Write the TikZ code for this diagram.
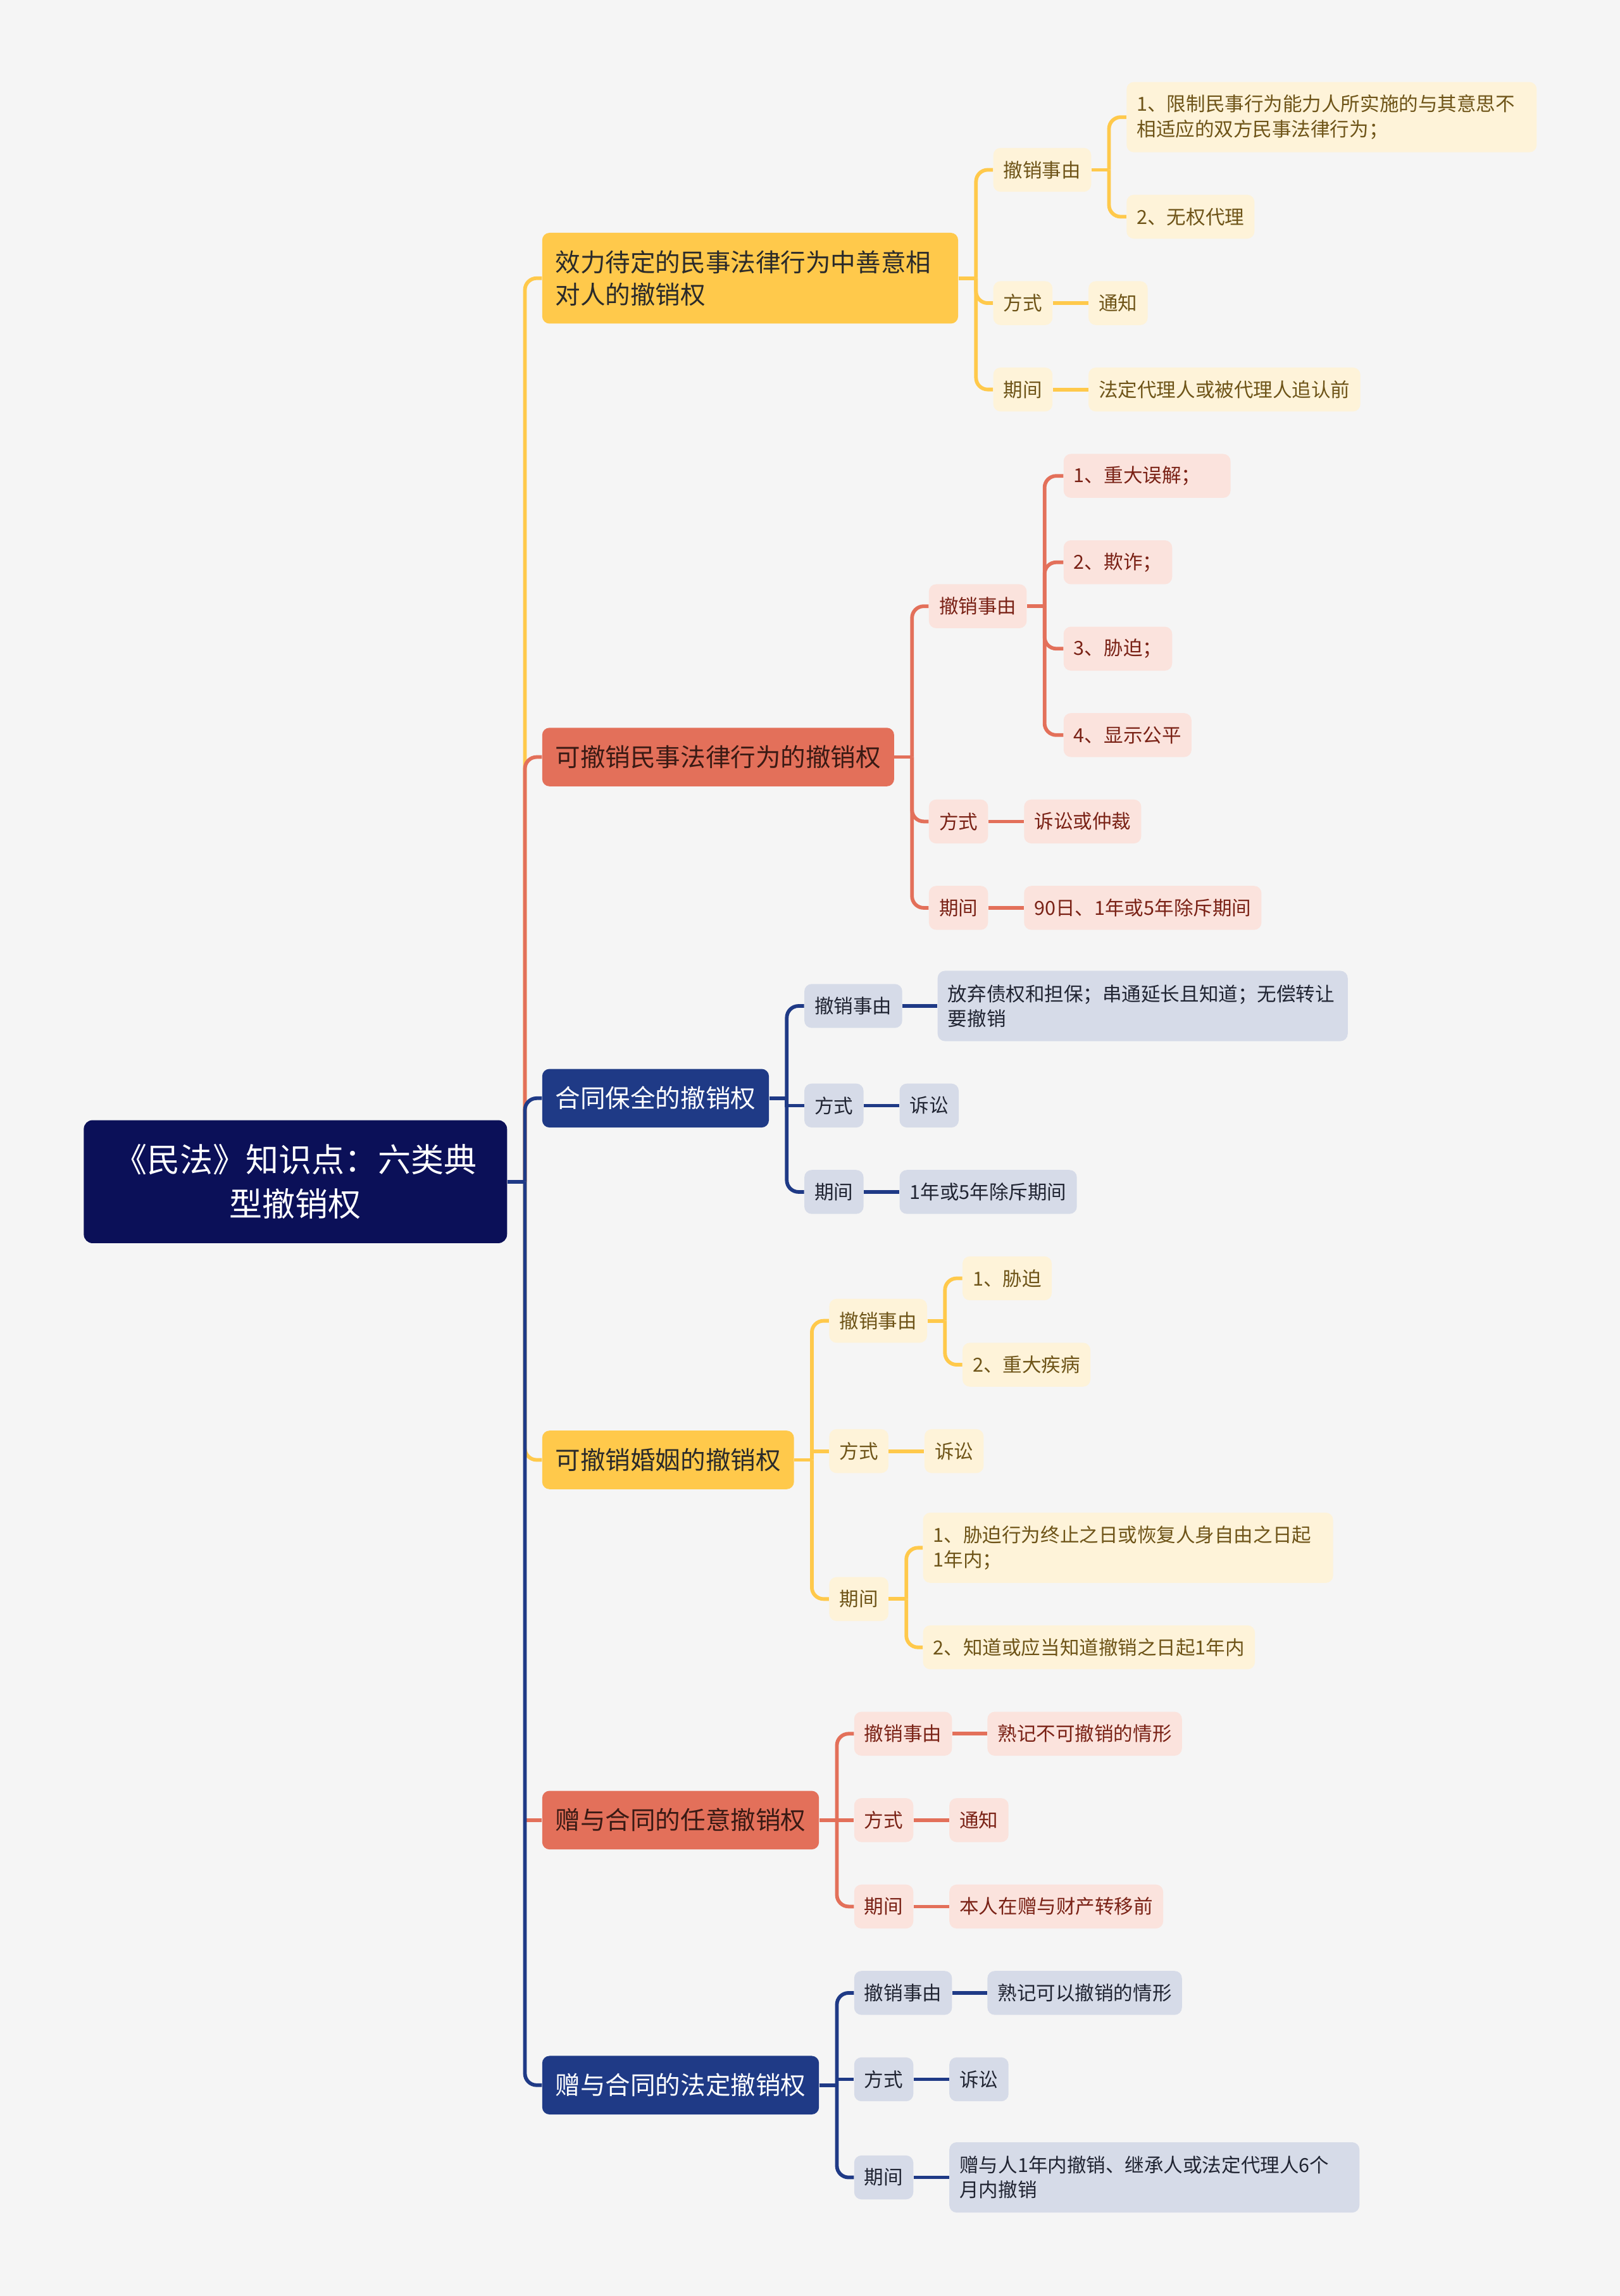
\documentclass[tikz,border=0pt]{standalone}
\usepackage{fontspec}
\setmainfont{Noto Sans CJK SC}
\definecolor{bgc}{HTML}{F5F5F5}
\definecolor{rootc}{HTML}{0B1058}
\definecolor{yelc}{HTML}{FFC94B}
\definecolor{salc}{HTML}{E3705A}
\definecolor{navc}{HTML}{1F3A86}
\definecolor{yell}{HTML}{FEF3D9}
\definecolor{sall}{HTML}{FBE3DD}
\definecolor{navl}{HTML}{D6DBE8}
\definecolor{yelt}{HTML}{6E5418}
\definecolor{salt}{HTML}{7A2216}
\definecolor{navt}{HTML}{202432}
\definecolor{darkt}{HTML}{2A2A2A}
\definecolor{salmt}{HTML}{3A1A14}
\tikzset{
  leafbox/.style={rounded corners=5pt, inner xsep=7pt, inner ysep=0pt, anchor=west,
    font=\fontsize{13.2}{17}\selectfont, minimum height=30pt},
  ly/.style={leafbox, fill=yell, text=yelt},
  ls/.style={leafbox, fill=sall, text=salt},
  ln/.style={leafbox, fill=navl, text=navt},
  twoline/.style={text width=266pt, align=left, minimum height=48pt},
  mainbox/.style={rounded corners=5pt, inner xsep=9pt, inner ysep=0pt, anchor=west,
    minimum height=40pt, font=\fontsize{17.1}{22}\selectfont},
  my/.style={mainbox, fill=yelc, text=darkt},
  ms/.style={mainbox, fill=salc, text=salmt},
  mn/.style={mainbox, fill=navc, text=white},
  ey/.style={draw=yelc, line width=2.5pt},
  es/.style={draw=salc, line width=2.5pt},
  en/.style={draw=navc, line width=2.5pt},
  rc/.style={rounded corners=8pt},
}
\begin{document}
\begin{tikzpicture}[x=1pt,y=-1pt]
\fill[bgc] (0,0) rectangle (1106,1568);
\useasboundingbox (0,0) rectangle (1106,1568);

% root
\node[rounded corners=6pt, fill=rootc, text=white, anchor=west, inner xsep=9pt, inner ysep=0pt,
  text width=271pt, align=center, minimum height=84pt, font=\fontsize{22.5}{30}\selectfont]
  (root) at (57,807) {《民法》知识点：六类典\\型撤销权};

% level 1
\node[my, text width=266pt, align=left, minimum height=62pt] (b1) at (370,190) {效力待定的民事法律行为中善意相\\对人的撤销权};
\node[ms] (b2) at (370,517) {可撤销民事法律行为的撤销权};
\node[mn] (b3) at (370,750) {合同保全的撤销权};
\node[my] (b4) at (370,997) {可撤销婚姻的撤销权};
\node[ms] (b5) at (370,1243) {赠与合同的任意撤销权};
\node[mn] (b6) at (370,1424) {赠与合同的法定撤销权};

% branch 1
\node[ly] (b1a) at (678,116) {撤销事由};
\node[ly, twoline] (b1a1) at (769,80) {1、限制民事行为能力人所实施的与其意思不\\相适应的双方民事法律行为；};
\node[ly] (b1a2) at (769,148) {2、无权代理};
\node[ly] (b1b) at (678,207) {方式};
\node[ly] (b1b1) at (743,207) {通知};
\node[ly] (b1c) at (678,266) {期间};
\node[ly] (b1c1) at (743,266) {法定代理人或被代理人追认前};

% branch 2
\node[ls] (b2a) at (634,414) {撤销事由};
\node[ls, minimum width=114pt, align=left, text width=100pt] (b2a1) at (726,325) {1、重大误解；};
\node[ls] (b2a2) at (726,384) {2、欺诈；};
\node[ls] (b2a3) at (726,443) {3、胁迫；};
\node[ls] (b2a4) at (726,502) {4、显示公平};
\node[ls] (b2b) at (634,561) {方式};
\node[ls] (b2b1) at (699,561) {诉讼或仲裁};
\node[ls] (b2c) at (634,620) {期间};
\node[ls] (b2c1) at (699,620) {90日、1年或5年除斥期间};

% branch 3
\node[ln] (b3a) at (549,687) {撤销事由};
\node[ln, twoline] (b3a1) at (640,687) {放弃债权和担保；串通延长且知道；无偿转让\\要撤销};
\node[ln] (b3b) at (549,755) {方式};
\node[ln] (b3b1) at (614,755) {诉讼};
\node[ln] (b3c) at (549,814) {期间};
\node[ln] (b3c1) at (614,814) {1年或5年除斥期间};

% branch 4
\node[ly] (b4a) at (566,902) {撤销事由};
\node[ly] (b4a1) at (657,873) {1、胁迫};
\node[ly] (b4a2) at (657,932) {2、重大疾病};
\node[ly] (b4b) at (566,991) {方式};
\node[ly] (b4b1) at (631,991) {诉讼};
\node[ly] (b4c) at (566,1092) {期间};
\node[ly, twoline] (b4c1) at (630,1057) {1、胁迫行为终止之日或恢复人身自由之日起\\1年内；};
\node[ly] (b4c2) at (630,1125) {2、知道或应当知道撤销之日起1年内};

% branch 5
\node[ls] (b5a) at (583,1184) {撤销事由};
\node[ls] (b5a1) at (674,1184) {熟记不可撤销的情形};
\node[ls] (b5b) at (583,1243) {方式};
\node[ls] (b5b1) at (648,1243) {通知};
\node[ls] (b5c) at (583,1302) {期间};
\node[ls] (b5c1) at (648,1302) {本人在赠与财产转移前};

% branch 6
\node[ln] (b6a) at (583,1361) {撤销事由};
\node[ln] (b6a1) at (674,1361) {熟记可以撤销的情形};
\node[ln] (b6b) at (583,1420) {方式};
\node[ln] (b6b1) at (648,1420) {诉讼};
\node[ln] (b6c) at (583,1487) {期间};
\node[ln, twoline] (b6c1) at (648,1487) {赠与人1年内撤销、继承人或法定代理人6个\\月内撤销};

% junction coordinates
\coordinate (rj) at ([xshift=12pt]root.east);
\coordinate (b1j) at ([xshift=12pt]b1.east);
\coordinate (b1aj) at ([xshift=12pt]b1a.east);
\coordinate (b2j) at ([xshift=12pt]b2.east);
\coordinate (b2aj) at ([xshift=12pt]b2a.east);
\coordinate (b3j) at ([xshift=12pt]b3.east);
\coordinate (b4j) at ([xshift=12pt]b4.east);
\coordinate (b4aj) at ([xshift=12pt]b4a.east);
\coordinate (b4cj) at ([xshift=12pt]b4c.east);
\coordinate (b5j) at ([xshift=12pt]b5.east);
\coordinate (b6j) at ([xshift=12pt]b6.east);

% root edges
\draw[ey, rc] (rj) |- (b1.west);
\draw[es, rc] (rj) |- (b2.west);
\draw[en, rc] (rj) |- (b3.west);
\draw[ey, rc] (rj) |- (b4.west);
\draw[es] (rj) |- (b5.west);
\draw[en, rc] (rj) |- (b6.west);
\draw[en] (root.east) -- (rj);

% branch 1 edges
\draw[ey] (b1.east) -- (b1j);
\draw[ey, rc] (b1j) |- (b1a.west);
\draw[ey, rc] (b1j) |- (b1b.west);
\draw[ey, rc] (b1j) |- (b1c.west);
\draw[ey] (b1a.east) -- (b1aj);
\draw[ey, rc] (b1aj) |- (b1a1.west);
\draw[ey, rc] (b1aj) |- (b1a2.west);
\draw[ey] (b1b.east) -- (b1b1.west);
\draw[ey] (b1c.east) -- (b1c1.west);

% branch 2 edges
\draw[es] (b2.east) -- (b2j);
\draw[es, rc] (b2j) |- (b2a.west);
\draw[es, rc] (b2j) |- (b2b.west);
\draw[es, rc] (b2j) |- (b2c.west);
\draw[es] (b2a.east) -- (b2aj);
\draw[es, rc] (b2aj) |- (b2a1.west);
\draw[es, rc] (b2aj) |- (b2a2.west);
\draw[es, rc] (b2aj) |- (b2a3.west);
\draw[es, rc] (b2aj) |- (b2a4.west);
\draw[es] (b2b.east) -- (b2b1.west);
\draw[es] (b2c.east) -- (b2c1.west);

% branch 3 edges
\draw[en] (b3.east) -- (b3j);
\draw[en, rc] (b3j) |- (b3a.west);
\draw[en] (b3j) |- (b3b.west);
\draw[en, rc] (b3j) |- (b3c.west);
\draw[en] (b3a.east) -- (b3a1.west);
\draw[en] (b3b.east) -- (b3b1.west);
\draw[en] (b3c.east) -- (b3c1.west);

% branch 4 edges
\draw[ey] (b4.east) -- (b4j);
\draw[ey, rc] (b4j) |- (b4a.west);
\draw[ey] (b4j) |- (b4b.west);
\draw[ey, rc] (b4j) |- (b4c.west);
\draw[ey] (b4a.east) -- (b4aj);
\draw[ey, rc] (b4aj) |- (b4a1.west);
\draw[ey, rc] (b4aj) |- (b4a2.west);
\draw[ey] (b4b.east) -- (b4b1.west);
\draw[ey] (b4c.east) -- (b4cj);
\draw[ey, rc] (b4cj) |- (b4c1.west);
\draw[ey, rc] (b4cj) |- (b4c2.west);

% branch 5 edges
\draw[es] (b5.east) -- (b5j);
\draw[es, rc] (b5j) |- (b5a.west);
\draw[es] (b5j) |- (b5b.west);
\draw[es, rc] (b5j) |- (b5c.west);
\draw[es] (b5a.east) -- (b5a1.west);
\draw[es] (b5b.east) -- (b5b1.west);
\draw[es] (b5c.east) -- (b5c1.west);

% branch 6 edges
\draw[en] (b6.east) -- (b6j);
\draw[en, rc] (b6j) |- (b6a.west);
\draw[en] (b6j) |- (b6b.west);
\draw[en, rc] (b6j) |- (b6c.west);
\draw[en] (b6a.east) -- (b6a1.west);
\draw[en] (b6b.east) -- (b6b1.west);
\draw[en] (b6c.east) -- (b6c1.west);
\end{tikzpicture}
\end{document}
